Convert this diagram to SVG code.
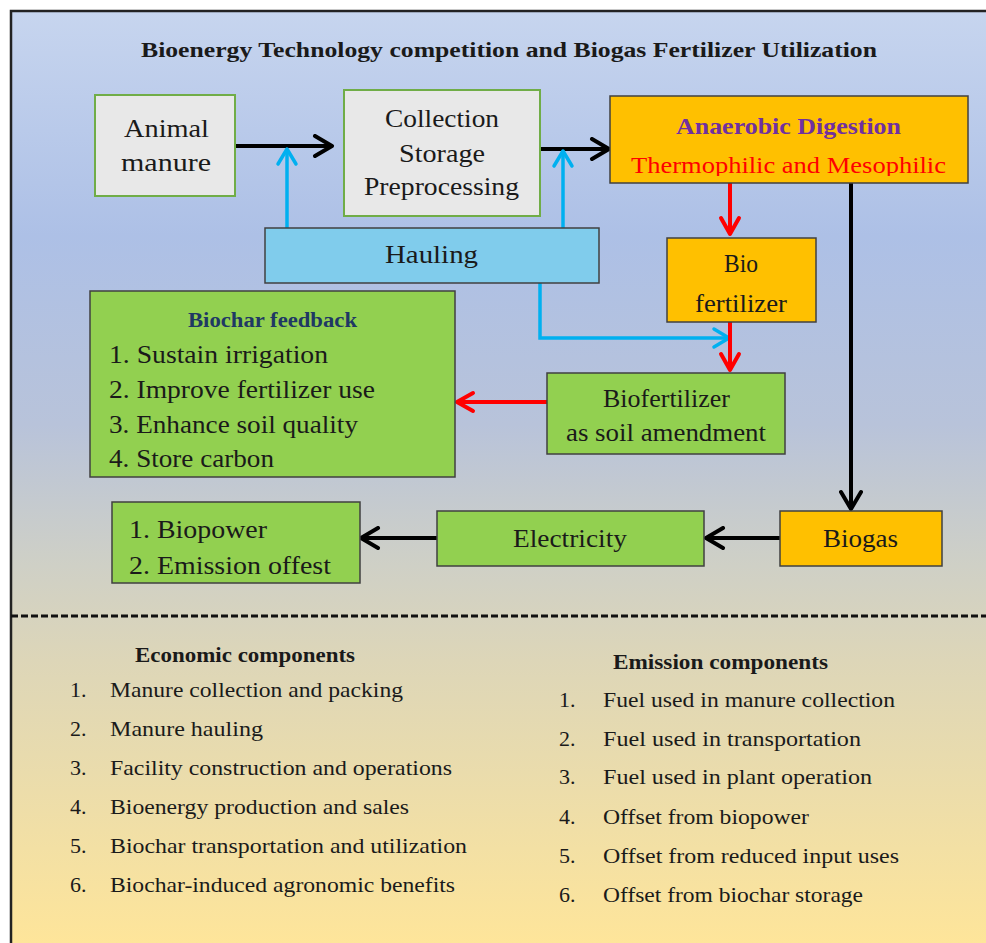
<svg xmlns="http://www.w3.org/2000/svg" width="986" height="943" viewBox="0 0 986 943">
<defs>
<linearGradient id="bg" x1="0" y1="0" x2="0" y2="943" gradientUnits="userSpaceOnUse">
<stop offset="0" stop-color="#c8d6ef"/>
<stop offset="0.25" stop-color="#adc0e6"/>
<stop offset="0.45" stop-color="#b8c3da"/>
<stop offset="0.6" stop-color="#cfd0c6"/>
<stop offset="0.7" stop-color="#ddd6b8"/>
<stop offset="1" stop-color="#fee59a"/>
</linearGradient>
<marker id="ak" viewBox="0 0 24 24" refX="20" refY="12" markerWidth="24" markerHeight="24" markerUnits="userSpaceOnUse" orient="auto"><path d="M3,2 L20,12 L3,22" fill="none" stroke="#000" stroke-width="4" stroke-linecap="round" stroke-linejoin="round"/></marker>
<marker id="ar" viewBox="0 0 24 24" refX="20" refY="12" markerWidth="24" markerHeight="24" markerUnits="userSpaceOnUse" orient="auto"><path d="M4,3 L20,12 L4,21" fill="none" stroke="#ff0000" stroke-width="4" stroke-linecap="round" stroke-linejoin="round"/></marker>
<marker id="ab" viewBox="0 0 24 24" refX="20" refY="12" markerWidth="24" markerHeight="24" markerUnits="userSpaceOnUse" orient="auto"><path d="M5,3 L20,12 L5,21" fill="none" stroke="#00b0f0" stroke-width="3.5" stroke-linecap="round" stroke-linejoin="round"/></marker>
<clipPath id="adclip"><rect x="611" y="97" width="356" height="79"/></clipPath>
<style>
text{font-family:"Liberation Serif","DejaVu Serif",serif;fill:#1a1a1a;}
.b{font-weight:bold;}
.t{font-size:25px;}
.l{font-size:22px;}
.h{font-size:20px;font-weight:bold;}
.gray{fill:#e8e8e8;stroke:#70ad47;stroke-width:2;}
.org{fill:#ffc000;stroke:#404040;stroke-width:1.5;}
.grn{fill:#92d050;stroke:#404040;stroke-width:1.5;}
.blu{fill:#80ccec;stroke:#404040;stroke-width:1.5;}
.ck{fill:none;stroke:#000;stroke-width:4;marker-end:url(#ak);}
.cr{fill:none;stroke:#ff0000;stroke-width:4;marker-end:url(#ar);}
.cb{fill:none;stroke:#00b0f0;stroke-width:3.5;marker-end:url(#ab);}
</style>
</defs>
<rect x="11" y="11" width="975" height="932" fill="url(#bg)"/>
<path d="M11,943 V11 H986" fill="none" stroke="#222" stroke-width="2.5"/>
<text class="b" x="141" y="57" font-size="21" textLength="736" lengthAdjust="spacingAndGlyphs">Bioenergy Technology competition and Biogas Fertilizer Utilization</text>

<g id="connectors">
<path class="ck" d="M235,146 H332"/>
<path class="cb" d="M287,228 V149"/>
<path class="ck" d="M540,149 H609"/>
<path class="cb" d="M563,228 V151"/>
<path class="cr" d="M730,183 V234"/>
<path class="ck" d="M851,183 V509"/>
<path class="cb" d="M540,283 V338 H729"/>
<path class="cr" d="M730,322 V370"/>
<path class="cr" d="M547,402 H457"/>
<path class="ck" d="M780,538 H706"/>
<path class="ck" d="M437,538 H361"/>
</g>

<g id="animal-manure">
<rect class="gray" x="95" y="95" width="140" height="101"/>
<text class="t" x="124" y="137" font-size="27" textLength="85" lengthAdjust="spacingAndGlyphs">Animal</text>
<text class="t" x="121" y="171" font-size="27" textLength="90" lengthAdjust="spacingAndGlyphs">manure</text>
</g>

<g id="collection">
<rect class="gray" x="344" y="90" width="196" height="126"/>
<text class="t" x="385" y="127" textLength="114" lengthAdjust="spacingAndGlyphs">Collection</text>
<text class="t" x="399" y="162" textLength="86" lengthAdjust="spacingAndGlyphs">Storage</text>
<text class="t" x="364" y="195" textLength="155" lengthAdjust="spacingAndGlyphs">Preprocessing</text>
</g>

<g id="anaerobic-digestion">
<rect class="org" x="610" y="96" width="358" height="87"/>
<text class="b" x="676" y="134" font-size="24" fill="#7030a0" style="fill:#7030a0" textLength="225" lengthAdjust="spacingAndGlyphs">Anaerobic Digestion</text>
<text x="631" y="173" font-size="24" style="fill:#ff0000" clip-path="url(#adclip)" textLength="315" lengthAdjust="spacingAndGlyphs">Thermophilic and Mesophilic</text>
</g>

<g id="hauling">
<rect class="blu" x="265" y="228" width="334" height="55"/>
<text class="t" x="385" y="263" textLength="93" lengthAdjust="spacingAndGlyphs">Hauling</text>
</g>

<g id="bio-fertilizer">
<rect class="org" x="667" y="238" width="149" height="84"/>
<text class="t" x="724" y="272" font-size="24" textLength="34" lengthAdjust="spacingAndGlyphs">Bio</text>
<text class="t" x="695" y="312" font-size="24" textLength="92" lengthAdjust="spacingAndGlyphs">fertilizer</text>
</g>

<g id="biochar-feedback">
<rect class="grn" x="90" y="291" width="365" height="186"/>
<text class="h" x="188" y="327" style="fill:#1f3864" textLength="169" lengthAdjust="spacingAndGlyphs">Biochar feedback</text>
<text class="t" x="109" y="363" textLength="219" lengthAdjust="spacingAndGlyphs">1. Sustain irrigation</text>
<text class="t" x="109" y="398" textLength="266" lengthAdjust="spacingAndGlyphs">2. Improve fertilizer use</text>
<text class="t" x="109" y="433" textLength="249" lengthAdjust="spacingAndGlyphs">3. Enhance soil quality</text>
<text class="t" x="109" y="467" textLength="165" lengthAdjust="spacingAndGlyphs">4. Store carbon</text>
</g>

<g id="biofertilizer-soil">
<rect class="grn" x="547" y="373" width="238" height="81"/>
<text class="t" x="603" y="407" font-size="24" textLength="127" lengthAdjust="spacingAndGlyphs">Biofertilizer</text>
<text class="t" x="566" y="441" font-size="24" textLength="200" lengthAdjust="spacingAndGlyphs">as soil amendment</text>
</g>

<g id="biopower">
<rect class="grn" x="112" y="502" width="248" height="81"/>
<text class="t" x="129" y="538" textLength="138" lengthAdjust="spacingAndGlyphs">1. Biopower</text>
<text class="t" x="129" y="574" textLength="202" lengthAdjust="spacingAndGlyphs">2. Emission offest</text>
</g>

<g id="electricity">
<rect class="grn" x="437" y="511" width="267" height="55"/>
<text class="t" x="513" y="547" textLength="114" lengthAdjust="spacingAndGlyphs">Electricity</text>
</g>

<g id="biogas">
<rect class="org" x="780" y="511" width="162" height="55"/>
<text class="t" x="823" y="547" textLength="75" lengthAdjust="spacingAndGlyphs">Biogas</text>
</g>

<line x1="11" y1="616" x2="986" y2="616" stroke="#111" stroke-width="3" stroke-dasharray="7 3"/>

<g id="economic-components">
<text class="h" x="135" y="662" textLength="220" lengthAdjust="spacingAndGlyphs">Economic components</text>
<text class="l" x="70" y="697">1.</text><text class="l" x="110" y="697" textLength="293" lengthAdjust="spacingAndGlyphs">Manure collection and packing</text>
<text class="l" x="70" y="736">2.</text><text class="l" x="110" y="736" textLength="153" lengthAdjust="spacingAndGlyphs">Manure hauling</text>
<text class="l" x="70" y="775">3.</text><text class="l" x="110" y="775" textLength="342" lengthAdjust="spacingAndGlyphs">Facility construction and operations</text>
<text class="l" x="70" y="814">4.</text><text class="l" x="110" y="814" textLength="299" lengthAdjust="spacingAndGlyphs">Bioenergy production and sales</text>
<text class="l" x="70" y="853">5.</text><text class="l" x="110" y="853" textLength="357" lengthAdjust="spacingAndGlyphs">Biochar transportation and utilization</text>
<text class="l" x="70" y="892">6.</text><text class="l" x="110" y="892" textLength="345" lengthAdjust="spacingAndGlyphs">Biochar-induced agronomic benefits</text>
</g>

<g id="emission-components">
<text class="h" x="613" y="669" textLength="215" lengthAdjust="spacingAndGlyphs">Emission components</text>
<text class="l" x="559" y="707">1.</text><text class="l" x="603" y="707" textLength="292" lengthAdjust="spacingAndGlyphs">Fuel used in manure collection</text>
<text class="l" x="559" y="746">2.</text><text class="l" x="603" y="746" textLength="258" lengthAdjust="spacingAndGlyphs">Fuel used in transportation</text>
<text class="l" x="559" y="784">3.</text><text class="l" x="603" y="784" textLength="269" lengthAdjust="spacingAndGlyphs">Fuel used in plant operation</text>
<text class="l" x="559" y="824">4.</text><text class="l" x="603" y="824" textLength="206" lengthAdjust="spacingAndGlyphs">Offset from biopower</text>
<text class="l" x="559" y="863">5.</text><text class="l" x="603" y="863" textLength="296" lengthAdjust="spacingAndGlyphs">Offset from reduced input uses</text>
<text class="l" x="559" y="902">6.</text><text class="l" x="603" y="902" textLength="260" lengthAdjust="spacingAndGlyphs">Offset from biochar storage</text>
</g>
</svg>
